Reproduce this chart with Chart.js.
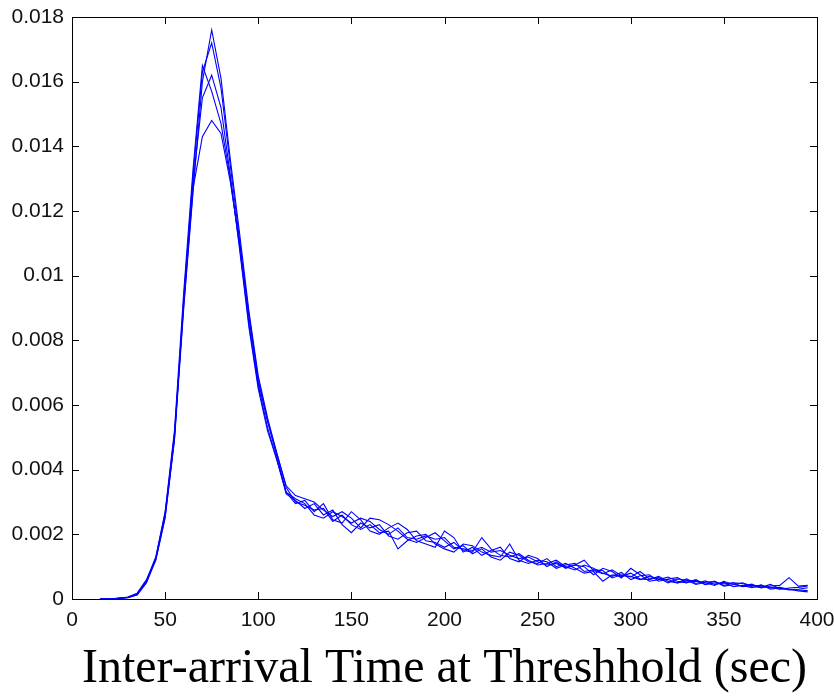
<!DOCTYPE html>
<html>
<head>
<meta charset="utf-8">
<title>Inter-arrival Time at Threshhold</title>
<script src="https://cdn.jsdelivr.net/npm/chart.js@4.4.1/dist/chart.umd.min.js"></script>
<style>
  html, body { margin: 0; padding: 0; background: #fff; }
  #wrap { width: 834px; height: 698px; position: relative; }
</style>
</head>
<body>
<div id="wrap"><canvas id="chart"></canvas></div>
<script>
/* --------------------------------------------------
   資料：x 每 5 秒一點，y 以 0.001 為單位讀取
   -------------------------------------------------- */
var xValues = [
   15,  20,  25,  30,  35,  40,  45,  50,  55,  60,
   65,  70,  75,  80,  85,  90,  95, 100, 105, 110,
  115, 120, 125, 130, 135, 140, 145, 150, 155, 160,
  165, 170, 175, 180, 185, 190, 195, 200, 205, 210,
  215, 220, 225, 230, 235, 240, 245, 250, 255, 260,
  265, 270, 275, 280, 285, 290, 295, 300, 305, 310,
  315, 320, 325, 330, 335, 340, 345, 350, 355, 360,
  365, 370, 375, 380, 385, 390, 395
];

var Y_UNIT = 0.001;

var runA = [
  0, 0, 0.02, 0.04, 0.12, 0.50, 1.20, 2.50, 4.90, 9.00,
  12.6, 16.0, 17.6, 16.1, 13.6, 11.3, 8.9, 6.9, 5.6, 4.5,
  3.5, 3.2, 3.1, 3.0, 2.75, 2.55, 2.7, 2.5, 2.2, 2.5,
  2.45, 2.3, 2.1, 1.85, 1.75, 1.9, 2.05, 1.8, 1.55, 1.65,
  1.4, 1.55, 1.3, 1.2, 1.45, 1.35, 1.15, 1.1, 1.25, 1.0,
  1.1, 0.95, 0.8, 0.85, 0.55, 0.75, 0.7, 0.8, 0.62, 0.6,
  0.7, 0.55, 0.5, 0.62, 0.48, 0.56, 0.45, 0.52, 0.38, 0.42,
  0.35, 0.44, 0.3, 0.34, 0.28, 0.3, 0.35
];

var runB = [
  0, 0.01, 0.02, 0.06, 0.18, 0.60, 1.30, 2.70, 5.20, 9.50,
  13.3, 16.5, 15.7, 14.7, 13.0, 10.9, 8.5, 6.6, 5.3, 4.3,
  3.3, 2.95, 3.05, 2.7, 2.95, 2.45, 2.35, 2.7, 2.45, 2.1,
  2.0, 2.2, 2.35, 2.15, 1.8, 1.7, 1.6, 2.1, 1.9, 1.45,
  1.6, 1.35, 1.5, 1.6, 1.25, 1.15, 1.35, 1.25, 1.0, 1.15,
  0.95, 1.05, 1.0, 0.75, 0.95, 0.85, 0.65, 0.95, 0.75, 0.55,
  0.6, 0.68, 0.55, 0.5, 0.6, 0.45, 0.55, 0.42, 0.5, 0.48,
  0.38, 0.36, 0.45, 0.32, 0.3, 0.25, 0.22
];

var runC = [
  0, 0, 0.03, 0.05, 0.15, 0.55, 1.25, 2.60, 5.00, 9.20,
  12.9, 15.5, 16.2, 15.2, 13.1, 10.8, 8.4, 6.5, 5.2, 4.3,
  3.25, 3.05, 2.8, 2.95, 2.6, 2.75, 2.3, 2.05, 2.35, 2.2,
  2.3, 1.95, 1.85, 2.05, 2.1, 1.8, 1.75, 1.6, 1.75, 1.5,
  1.45, 1.9, 1.55, 1.35, 1.3, 1.4, 1.2, 1.05, 1.1, 1.2,
  1.0, 0.9, 1.05, 0.95, 0.8, 0.7, 0.82, 0.6, 0.72, 0.75,
  0.55, 0.62, 0.66, 0.52, 0.55, 0.5, 0.42, 0.55, 0.45, 0.4,
  0.46, 0.34, 0.4, 0.42, 0.66, 0.4, 0.42
];

var runD = [
  0, 0.01, 0.02, 0.05, 0.14, 0.52, 1.28, 2.65, 5.10, 9.10,
  12.7, 14.3, 14.8, 14.4, 12.9, 11.0, 8.8, 6.8, 5.5, 4.5,
  3.45, 3.0, 2.9, 2.75, 2.8, 2.4, 2.6, 2.3, 2.15, 2.3,
  2.05, 2.1, 1.55, 1.8, 1.95, 2.0, 1.7, 1.55, 1.45, 1.7,
  1.65, 1.45, 1.35, 1.3, 1.7, 1.2, 1.1, 1.2, 1.15, 0.95,
  1.05, 1.1, 0.85, 0.9, 0.88, 0.65, 0.75, 0.68, 0.85, 0.62,
  0.66, 0.5, 0.62, 0.58, 0.45, 0.52, 0.55, 0.4, 0.44, 0.5,
  0.4, 0.42, 0.34, 0.36, 0.3, 0.28, 0.26
];

var runE = [
  0, 0, 0.02, 0.05, 0.16, 0.58, 1.22, 2.55, 4.95, 9.30,
  13.1, 16.3, 17.2, 15.8, 13.4, 11.1, 8.7, 6.7, 5.5, 4.4,
  3.3, 3.1, 2.95, 2.6, 2.5, 2.7, 2.55, 2.35, 2.5, 2.4,
  2.15, 2.0, 2.2, 1.9, 1.85, 1.95, 1.85, 1.9, 1.6, 1.55,
  1.5, 1.6, 1.45, 1.5, 1.35, 1.25, 1.3, 1.15, 1.05, 1.1,
  0.98, 1.05, 1.2, 0.88, 0.78, 0.9, 0.72, 0.7, 0.6, 0.7,
  0.62, 0.6, 0.5, 0.56, 0.58, 0.44, 0.5, 0.47, 0.5, 0.38,
  0.42, 0.38, 0.36, 0.3, 0.34, 0.36, 0.4
];

var runs = [runA, runB, runC, runD, runE];

var xTicks = [0, 50, 100, 150, 200, 250, 300, 350, 400];
var yTicks = [0, 0.002, 0.004, 0.006, 0.008, 0.01, 0.012, 0.014, 0.016, 0.018];

var AXIS_COLOR = '#000';
var TICK_LEN   = 7;

/* --------------------------------------------------
   MATLAB 風格：四邊外框 + 向內刻度
   -------------------------------------------------- */
var boxPlugin = {
  id: 'matlabBox',
  afterDraw: function (chart) {
    var ctx = chart.ctx;
    var a   = chart.chartArea;
    var xs  = chart.scales.x;
    var ys  = chart.scales.y;
    ctx.save();
    ctx.strokeStyle = AXIS_COLOR;
    ctx.lineWidth   = 1;
    ctx.strokeRect(Math.round(a.left) + 0.5, Math.round(a.top) + 0.5,
                   Math.round(a.right - a.left), Math.round(a.bottom - a.top));
    ctx.beginPath();
    xTicks.forEach(function (v) {
      var px = Math.round(xs.getPixelForValue(v)) + 0.5;
      ctx.moveTo(px, a.bottom);
      ctx.lineTo(px, a.bottom - TICK_LEN);
      ctx.moveTo(px, a.top);
      ctx.lineTo(px, a.top + TICK_LEN);
    });
    yTicks.forEach(function (v) {
      var py = Math.round(ys.getPixelForValue(v)) + 0.5;
      ctx.moveTo(a.left, py);
      ctx.lineTo(a.left + TICK_LEN, py);
      ctx.moveTo(a.right, py);
      ctx.lineTo(a.right - TICK_LEN, py);
    });
    ctx.stroke();
    ctx.restore();
  },
};

var datasets = runs.map(function (run) {
  return {
    data: xValues.map(function (x, i) { return { x: x, y: run[i] * Y_UNIT }; }),
    borderColor:  '#0000ff',
    borderWidth:  1.1,
    pointRadius:  0,
    tension:      0,
    fill:         false,
  };
});

var labelFont = { family: '"Liberation Sans", Arial, sans-serif', size: 21 };

new Chart(document.getElementById('chart'), {
  type: 'line',
  data: { datasets: datasets },
  options: {
    responsive:          true,
    maintainAspectRatio: false,
    animation:           false,
    layout: { padding: { top: 17, right: 17, left: 0, bottom: 0 } },
    plugins: {
      legend:  { display: false },
      tooltip: { enabled: false },
    },
    scales: {
      x: {
        type: 'linear',
        min: 0,
        max: 400,
        afterFit: function (scale) {
          scale.height       = 99;
          scale.paddingLeft  = 0;
          scale.paddingRight = 0;
        },
        afterBuildTicks: function (scale) {
          scale.ticks = xTicks.map(function (v) { return { value: v }; });
        },
        grid:   { display: false, drawTicks: false },
        border: { display: false },
        ticks: {
          color:    '#111',
          font:     labelFont,
          padding:  9,
          autoSkip: false,
          maxRotation: 0,
          callback: function (v) { return String(v); },
        },
        title: {
          display: true,
          text:    'Inter-arrival Time at Threshhold (sec)',
          color:   '#000',
          font:    { family: '"Liberation Serif", "Times New Roman", serif', size: 48 },
          padding: { top: 6, bottom: 0 },
        },
      },
      y: {
        min: 0,
        max: 0.018,
        afterFit: function (scale) {
          scale.width         = 72;
          scale.paddingTop    = 0;
          scale.paddingBottom = 0;
        },
        afterBuildTicks: function (scale) {
          scale.ticks = yTicks.map(function (v) { return { value: v }; });
        },
        grid:   { display: false, drawTicks: false },
        border: { display: false },
        ticks: {
          color:    '#111',
          font:     labelFont,
          padding:  8,
          autoSkip: false,
          callback: function (v) { return String(Number(v.toFixed(3))); },
        },
      },
    },
  },
  plugins: [boxPlugin],
});
</script>
</body>
</html>
